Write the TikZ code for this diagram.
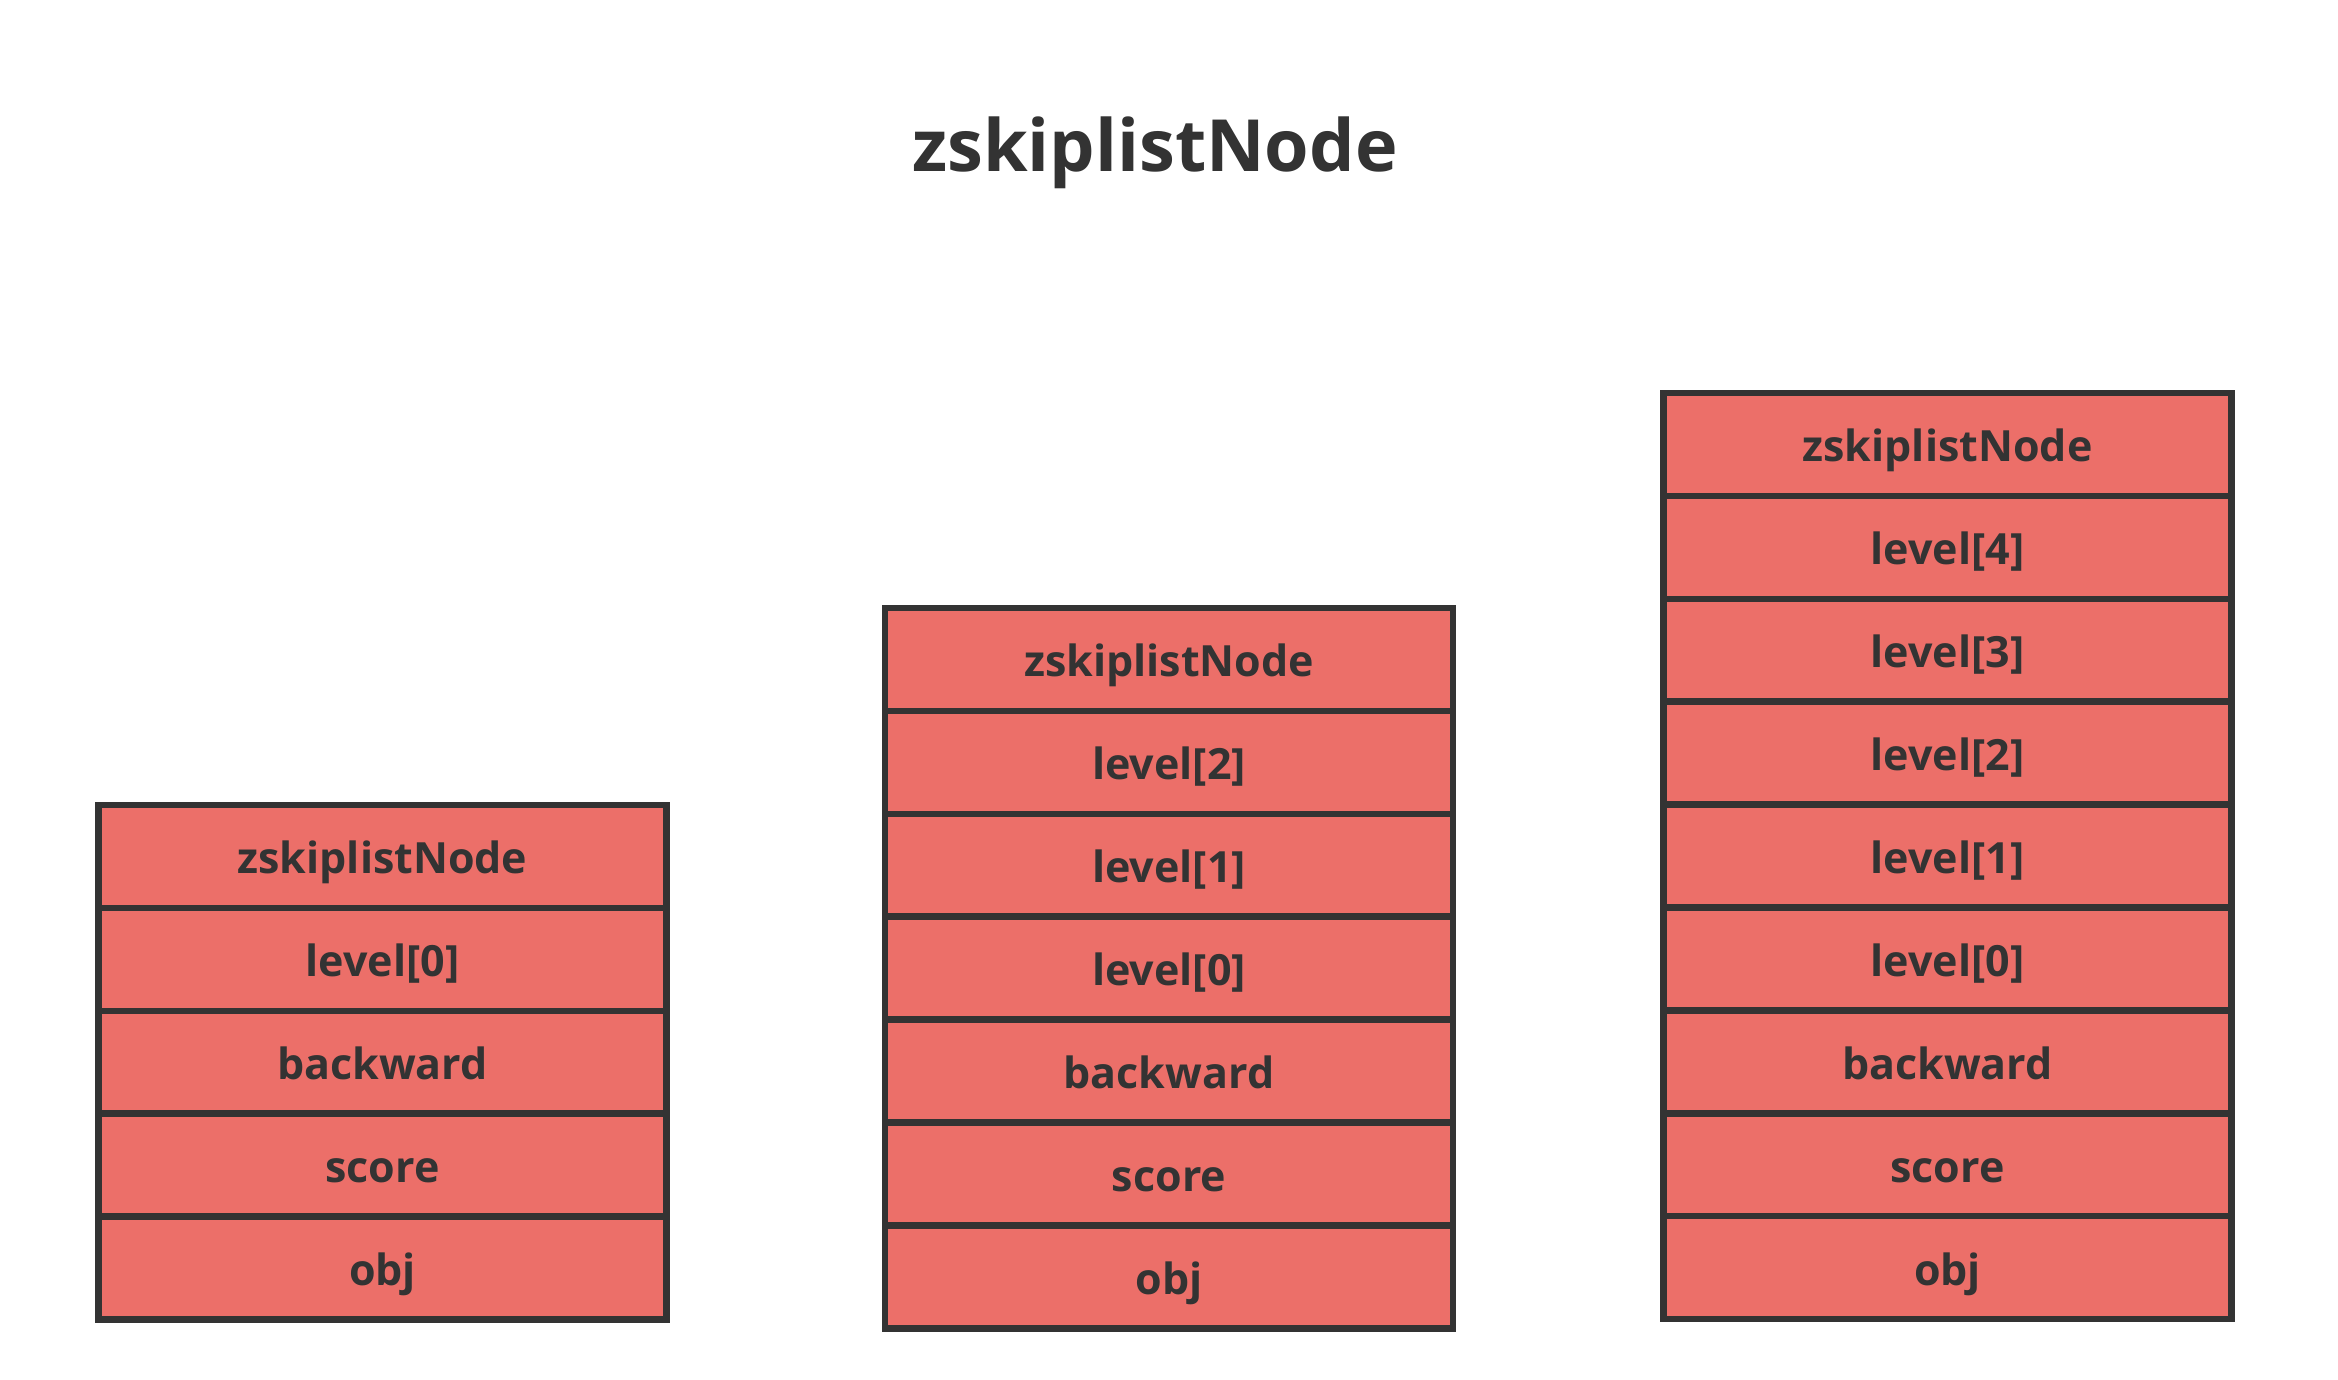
\documentclass[tikz,border=0pt]{standalone}
\usepackage{fontspec}
\setmainfont{Open Sans}
\definecolor{cellfill}{HTML}{EC6F69}
\definecolor{ink}{HTML}{333333}
\begin{document}
\begin{tikzpicture}[x=1pt,y=1pt,
  cell/.style={draw=ink, fill=cellfill, line width=6.5pt, minimum width=568pt,
    minimum height=102.9pt, inner sep=0pt, outer sep=0pt, text=ink,
    text height=35pt, text depth=0pt,
    font=\fontsize{43}{45}\selectfont\bfseries},
  titletext/.style={text=ink, font=\fontsize{72}{76}\selectfont\bfseries, inner sep=0pt}]
\useasboundingbox[fill=white] (0,0) rectangle (2338,-1380);
\node[titletext, anchor=base] (title) at (1155,-172) {zskiplistNode};
% left stack
\foreach \t [count=\i] in {zskiplistNode,{level[0]},backward,score,obj}
  \node[cell] (l\i) at (382.5,{-805-51.45-(\i-1)*102.9}) {\t};
% middle stack
\foreach \t [count=\i] in {zskiplistNode,{level[2]},{level[1]},{level[0]},backward,score,obj}
  \node[cell] (m\i) at (1169,{-608-51.45-(\i-1)*102.9}) {\t};
% right stack
\foreach \t [count=\i] in {zskiplistNode,{level[4]},{level[3]},{level[2]},{level[1]},{level[0]},backward,score,obj}
  \node[cell] (r\i) at (1947.5,{-393-51.45-(\i-1)*102.9}) {\t};
\end{tikzpicture}
\end{document}
